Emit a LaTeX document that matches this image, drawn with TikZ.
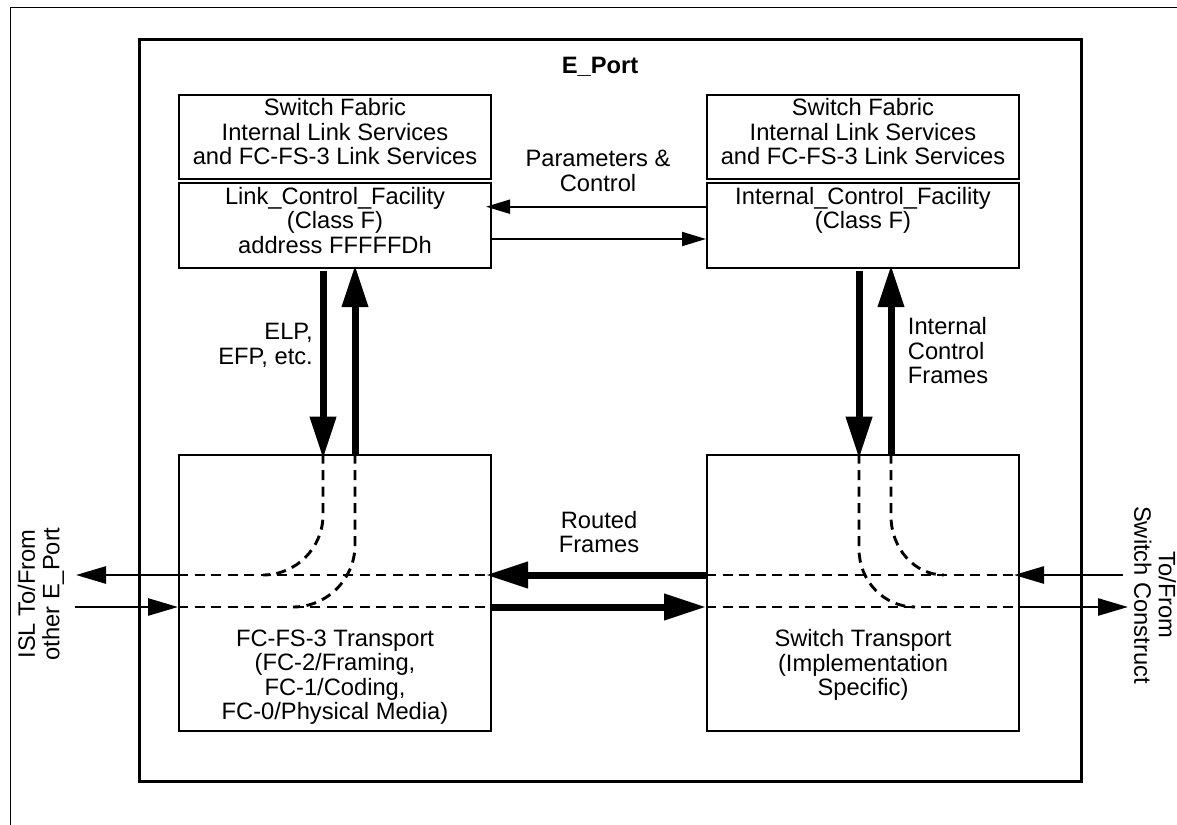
\documentclass[tikz,border=0pt]{standalone}
\usepackage{fontspec}
\setmainfont{Liberation Sans}
\usetikzlibrary{arrows.meta,calc}
\tikzset{
  lbl/.style={font=\fontsize{23.7}{24.5}\selectfont, inner sep=0pt, align=center},
  blk/.style={draw, line width=2pt, minimum width=312pt, inner sep=0pt},
  thinarrow/.style={line width=1.9pt, -{Triangle[length=24pt,width=14pt]}},
  heavyarrow/.style={line width=7pt, -{Triangle[length=42pt,width=25pt]}},
  islarrow/.style={line width=2.6pt, -{Triangle[length=30pt,width=17pt]}},
  flow/.style={line width=2.9pt, dash pattern=on 10pt off 6.5pt},
}
\begin{document}
\begin{tikzpicture}[x=1pt,y=-1pt]
\useasboundingbox (0,0) rectangle (1177,824);
\fill[white] (0,0) rectangle (1177,824);

% page frame
\draw[line width=1.6pt] (10.5,830) -- (10.5,7.5) -- (1180,7.5);

% E_Port enclosure
\node[draw, line width=3pt, minimum width=942pt, minimum height=741.5pt, inner sep=0pt] (eport) at (610,410.25) {};
\node[lbl, font=\fontsize{23.7}{24.5}\selectfont\bfseries, anchor=base] (eportlbl) at (600,74) {E\_Port};

% service blocks
\node[blk, minimum height=84pt] (sfL) at (335,137.3) {};
\node[blk, minimum height=85pt] (lcf) at (335,225.2) {};
\node[blk, minimum height=84pt] (sfR) at (863,137.3) {};
\node[blk, minimum height=85pt] (icf) at (863,225.2) {};
\node[blk, minimum height=276.3pt] (ft) at (335,592.85) {};
\node[blk, minimum height=276.3pt] (st) at (863,592.85) {};

% block texts
\node[lbl] (sfLt) at (335,131.8) {Switch Fabric\\Internal Link Services\\and FC-FS-3 Link Services};
\node[lbl] (sfRt) at (863,131.8) {Switch Fabric\\Internal Link Services\\and FC-FS-3 Link Services};
\node[lbl] (lcft) at (335,220.2) {Link\_Control\_Facility\\(Class F)\\address FFFFFDh};
\node[lbl] (icft) at (863,210.4) {Internal\_Control\_Facility\\(Class F)};
\node[lbl] (ftt) at (335,677) {FC-FS-3 Transport\\(FC-2/Framing,\\FC-1/Coding,\\FC-0/Physical Media)};
\node[lbl] (stt) at (863,665) {Switch Transport\\(Implementation\\Specific)};

% connector labels
\node[lbl] (params) at (598,171.1) {Parameters \&\\Control};
\node[lbl, align=right, anchor=east] (elp) at (313,345.4) {ELP,\\EFP, etc.};
\node[lbl, align=left, anchor=west] (icfr) at (907.7,350.9) {Internal\\Control\\Frames};
\node[lbl] (routed) at (599,532) {Routed\\Frames};
\node[lbl, rotate=90] (isl) at (41,594) {ISL To/From\\other E\_Port};
\node[lbl, rotate=-90] (swc) at (1155,595) {To/From\\Switch Construct};

% rows and columns of the flows
\coordinate (r1) at (0,206.7);
\coordinate (r2) at (0,239);
\coordinate (rA) at (0,575);
\coordinate (rB) at (0,607);
\coordinate (cL1) at (323,0);
\coordinate (cL2) at (355,0);
\coordinate (cR1) at (859,0);
\coordinate (cR2) at (891,0);
\coordinate (wOut) at (76,575);
\coordinate (wIn) at (75,607);
\coordinate (eIn) at (1123,575);
\coordinate (eOut) at (1128,607);

% parameters and control
\draw[thinarrow, shorten >=-6pt] (icf.west |- r1) -- (lcf.east |- r1);
\draw[thinarrow] (lcf.east |- r2) -- (icf.west |- r2);

% control frames between facilities and transports
\draw[heavyarrow, shorten <=2pt, shorten >=-5pt] (cL1 |- lcf.south) -- (cL1 |- ft.north);
\draw[heavyarrow, shorten >=-3.5pt] (cL2 |- ft.north) -- (cL2 |- lcf.south);
\draw[heavyarrow, shorten <=2pt, shorten >=-5pt] (cR1 |- icf.south) -- (cR1 |- st.north);
\draw[heavyarrow, shorten >=-3.5pt] (cR2 |- st.north) -- (cR2 |- icf.south);

% routed frames
\draw[heavyarrow, shorten >=-6pt] (st.west |- rA) -- (ft.east |- rA);
\draw[heavyarrow] (ft.east |- rB) -- (st.west |- rB);

% links leaving the E_Port
\draw[islarrow] (ft.west |- rA) -- (wOut);
\draw[islarrow] (wIn) -- (ft.west |- rB);
\draw[islarrow, shorten >=-6pt] (eIn) -- (st.east |- rA);
\draw[islarrow] (st.east |- rB) -- (eOut);

% paths through the transports
\draw[flow] (ft.west |- rA) -- (ft.east |- rA);
\draw[flow] (ft.west |- rB) -- (ft.east |- rB);
\draw[flow] (st.west |- rA) -- (st.east |- rA);
\draw[flow] (st.west |- rB) -- (st.east |- rB);
\draw[flow] (cL1 |- ft.north) -- (323,515) .. controls (323,548) and (296,575) .. (263,575);
\draw[flow] (cL2 |- ft.north) -- (355,545) .. controls (355,579) and (327,607) .. (293,607);
\draw[flow] (cR1 |- st.north) -- (859,549) .. controls (859,581) and (884,607) .. (915,607);
\draw[flow] (cR2 |- st.north) -- (891,516) .. controls (891,549) and (915,575) .. (944,575);
\end{tikzpicture}
\end{document}
